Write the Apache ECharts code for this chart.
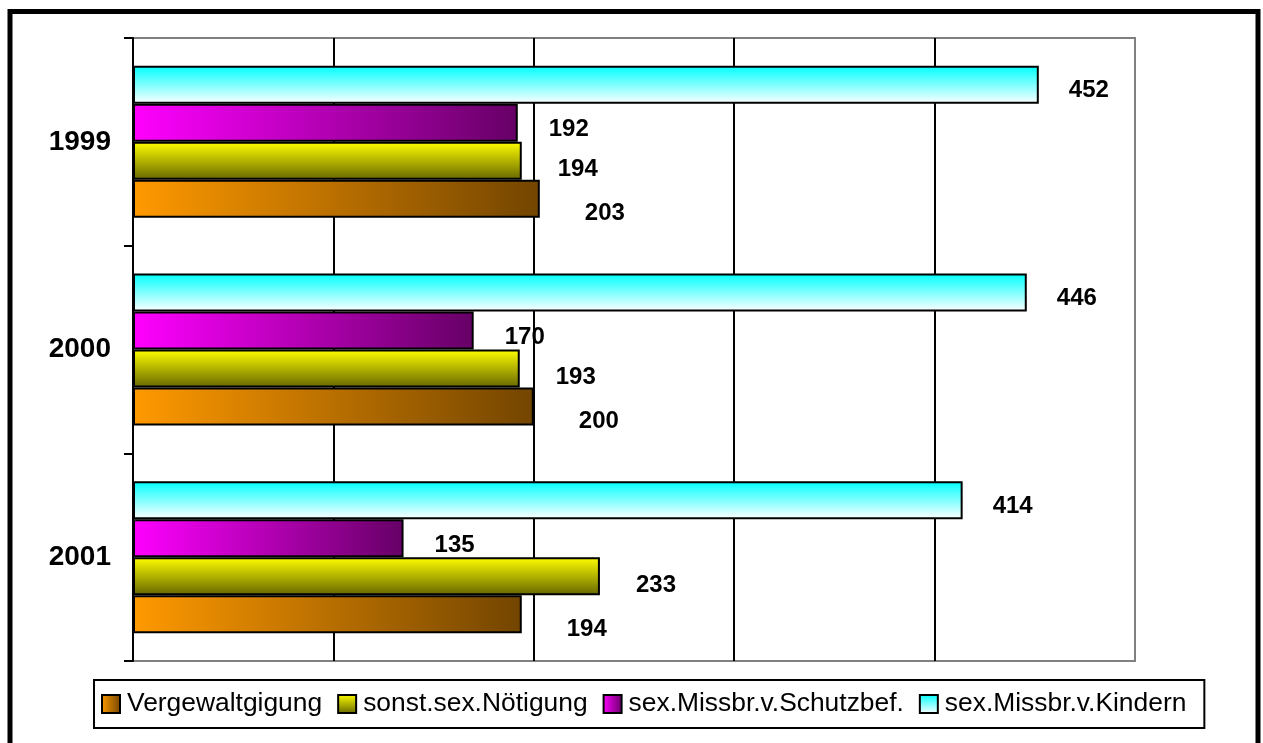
<!DOCTYPE html>
<html>
<head>
<meta charset="utf-8">
<script src="https://cdn.jsdelivr.net/npm/echarts@6/dist/echarts.min.js"></script>
<style>
  html, body { margin: 0; padding: 0; background: #fff; }
  #chart { width: 1263px; height: 743px; }
</style>
</head>
<body>
<div id="chart"></div>
<script>
var years = ['1999', '2000', '2001'];
var vergewaltigung = [203, 200, 194];
var noetigung = [194, 193, 233];
var schutzbef = [192, 170, 135];
var kindern = [452, 446, 414];
var seriesNames = ['Vergewaltgigung', 'sonst.sex.Nötigung', 'sex.Missbr.v.Schutzbef.', 'sex.Missbr.v.Kindern'];

var chartDom = document.getElementById('chart');
var myChart = echarts.init(chartDom);
var option;

function grad(x2, y2, c1, c2) {
    return new echarts.graphic.LinearGradient(0, 0, x2, y2, [
        { offset: 0, color: c1 },
        { offset: 1, color: c2 }
    ]);
}

function makeSeries(name, data, color, dx, dy) {
    return {
        name: name,
        type: 'bar',
        data: data,
        barWidth: 38,
        barGap: '0%',
        itemStyle: {
            color: color,
            borderColor: '#000',
            borderWidth: 2
        },
        label: {
            show: true,
            position: 'right',
            distance: 0,
            offset: [dx, dy],
            color: '#000',
            fontFamily: 'Liberation Sans, Arial, sans-serif',
            fontWeight: 'bold',
            fontSize: 24
        }
    };
}

option = {
    animation: false,
    backgroundColor: '#fff',
    grid: {
        left: 133,
        right: 128,
        top: 38,
        bottom: 82,
        show: true,
        borderColor: '#808080',
        borderWidth: 2
    },
    legend: {
        left: 94,
        top: 680,
        orient: 'horizontal',
        data: seriesNames,
        itemWidth: 18,
        itemHeight: 18,
        itemGap: 15,
        icon: 'rect',
        padding: [11, 18, 11, 7],
        borderColor: '#000',
        borderWidth: 2,
        itemStyle: { borderColor: '#000', borderWidth: 2 },
        textStyle: {
            color: '#000',
            fontFamily: 'Liberation Sans, Arial, sans-serif',
            fontSize: 26.4,
            padding: [0, 0, 0, 2]
        }
    },
    xAxis: {
        type: 'value',
        min: 0,
        max: 500,
        interval: 100,
        axisLabel: { show: false },
        axisTick: { show: false },
        axisLine: { show: false },
        splitLine: {
            show: true,
            lineStyle: {
                color: ['#000', '#000', '#000', '#000', '#000', '#808080'],
                width: 2
            }
        }
    },
    yAxis: {
        type: 'category',
        inverse: true,
        data: years,
        axisLine: { show: true, lineStyle: { color: '#000', width: 2 } },
        axisTick: { show: true, length: 9, lineStyle: { color: '#000', width: 2 } },
        axisLabel: {
            margin: 22,
            color: '#000',
            fontFamily: 'Liberation Sans, Arial, sans-serif',
            fontWeight: 'bold',
            fontSize: 28
        },
        splitLine: { show: false }
    },
    graphic: [{
        type: 'rect',
        shape: { x: 10, y: 11.5, width: 1248, height: 760 },
        style: { fill: 'none', stroke: '#000', lineWidth: 5 },
        silent: true
    }],
    // listed top to bottom within each year group
    series: [
        makeSeries(seriesNames[3], kindern, grad(0, 1, '#00FFFF', '#FFFFFF'), 30, 6),
        makeSeries(seriesNames[2], schutzbef, grad(1, 0, '#FF00FF', '#660066'), 31, 7),
        makeSeries(seriesNames[1], noetigung, grad(0, 1, '#FFFF00', '#666600'), 36, 9),
        makeSeries(seriesNames[0], vergewaltigung, grad(1, 0, '#FF9900', '#734500'), 45, 15)
    ]
};
option && myChart.setOption(option);
</script>
</body>
</html>
